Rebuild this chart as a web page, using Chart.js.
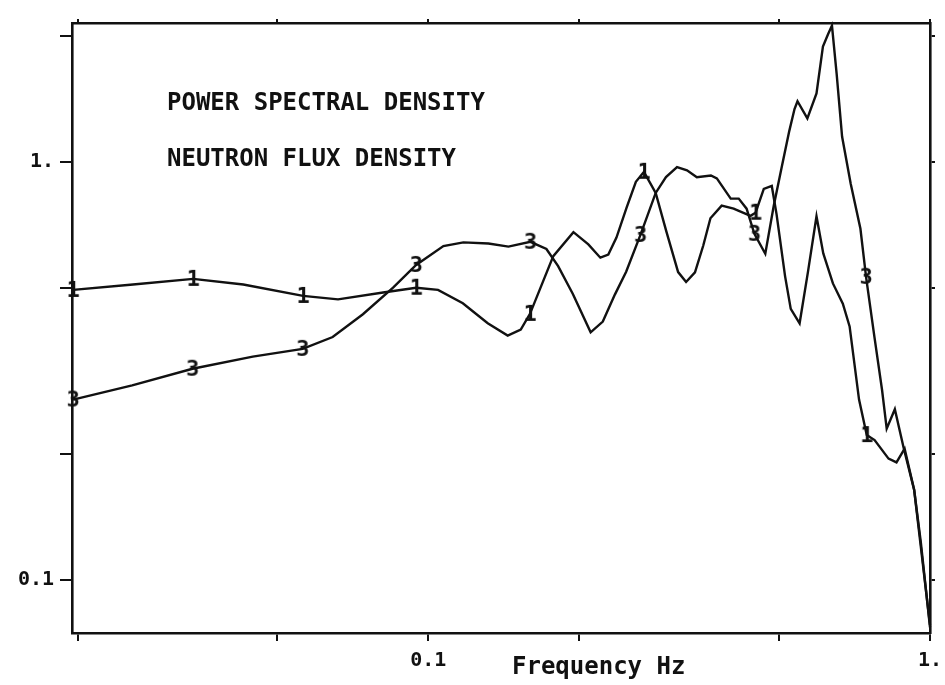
<!DOCTYPE html>
<html>
<head>
<meta charset="utf-8">
<script src="https://cdn.jsdelivr.net/npm/chart.js@4/dist/chart.umd.min.js"></script>
<style>
  html, body { margin: 0; padding: 0; background: #fff; }
  #psd { display: block; }
</style>
</head>
<body>
<canvas id="psd" width="945" height="685"></canvas>
<script>
// Power spectral density of neutron flux, curves "1" and "3" (log-log)
const titleLines = ['POWER SPECTRAL DENSITY', 'NEUTRON FLUX DENSITY'];
const xTitle = 'Frequency Hz';

const xTicks = [0.02, 0.05, 0.1, 0.2, 0.5, 1];
const yTicks = [0.1, 0.2, 0.5, 1, 2];
const xLabels = { 0.1: '0.1', 1: '1.' };
const yLabels = { 0.1: '0.1', 1: '1.' };

const freq1 = [0.0196, 0.0258, 0.0340, 0.0428, 0.0563, 0.0661, 0.0813, 0.0946, 0.1046, 0.1172,
               0.1314, 0.1440, 0.1529, 0.1595, 0.1775, 0.1947, 0.2085, 0.2203, 0.2285, 0.2372,
               0.2485, 0.2593, 0.2691, 0.2840, 0.2984, 0.3148, 0.3265, 0.3401, 0.3533, 0.3651,
               0.3844, 0.4061, 0.4388, 0.4491, 0.4664, 0.4838, 0.4945, 0.5142, 0.5278, 0.5497,
               0.5714, 0.5940, 0.6128, 0.6405, 0.6703, 0.6915, 0.7221, 0.7480, 0.7755, 0.8268,
               0.8575, 0.8900, 0.9300, 0.9587, 1.0000];
const psd1  = [0.494, 0.509, 0.525, 0.509, 0.478, 0.469, 0.487, 0.500, 0.494, 0.459,
               0.411, 0.384, 0.397, 0.433, 0.595, 0.679, 0.635, 0.590, 0.600, 0.659,
               0.777, 0.896, 0.947, 0.843, 0.680, 0.545, 0.516, 0.544, 0.631, 0.733,
               0.786, 0.773, 0.743, 0.756, 0.862, 0.876, 0.750, 0.533, 0.445, 0.411,
               0.547, 0.741, 0.604, 0.512, 0.458, 0.404, 0.270, 0.222, 0.216, 0.195,
               0.191, 0.206, 0.164, 0.123, 0.077];
const marks1 = [0, 2, 4, 7, 13, 22, 33, 47];

const freq3 = [0.0196, 0.0257, 0.0339, 0.0447, 0.0562, 0.0645, 0.0741, 0.0851, 0.0946, 0.1072,
               0.1175, 0.1318, 0.1445, 0.1598, 0.1720, 0.1815, 0.1942, 0.2107, 0.2228, 0.2356,
               0.2480, 0.2648, 0.2840, 0.2977, 0.3132, 0.3279, 0.3430, 0.3659, 0.3760, 0.4007,
               0.4157, 0.4310, 0.4467, 0.4696, 0.4881, 0.5069, 0.5242, 0.5370, 0.5444, 0.5696,
               0.5940, 0.6118, 0.6260, 0.6377, 0.6515, 0.6680, 0.6950, 0.7267, 0.7457, 0.7750,
               0.8024, 0.8198, 0.8510, 0.8860, 0.9300, 0.9587, 1.0000];
const psd3  = [0.270, 0.292, 0.320, 0.342, 0.357, 0.381, 0.432, 0.500, 0.567, 0.629,
               0.642, 0.638, 0.627, 0.644, 0.619, 0.563, 0.483, 0.391, 0.415, 0.482,
               0.546, 0.669, 0.843, 0.920, 0.972, 0.955, 0.919, 0.928, 0.913, 0.817,
               0.817, 0.773, 0.673, 0.603, 0.784, 0.978, 1.185, 1.338, 1.397, 1.271,
               1.459, 1.889, 2.018, 2.120, 1.627, 1.150, 0.887, 0.692, 0.531, 0.381,
               0.285, 0.230, 0.256, 0.207, 0.164, 0.120, 0.078];
const marks3 = [0, 2, 4, 8, 13, 21, 32, 48];

const INK = '#111';
const MONO = '"DejaVu Sans Mono", "Liberation Mono", monospace';

function digitImage(ch) {
    const c = document.createElement('canvas');
    c.width = 18; c.height = 24;
    const g = c.getContext('2d');
    g.fillStyle = INK;
    g.font = 'bold 22px ' + MONO;
    g.textAlign = 'center';
    g.textBaseline = 'middle';
    g.fillText(ch, 9, 13);
    return c;
}

function makeSeries(name, freq, psd, marks) {
    const img = digitImage(name);
    return {
        label: name,
        data: freq.map((f, i) => ({ x: f, y: psd[i] })),
        borderColor: INK,
        borderWidth: 2.4,
        tension: 0,
        fill: false,
        clip: false,
        pointStyle: img,
        pointRadius: ctx => marks.includes(ctx.dataIndex) ? 8 : 0,
        pointHoverRadius: 0,
    };
}

const fixTicks = list => scale => { scale.ticks = list.map(v => ({ value: v })); };

const fitBox = (w, h) => s => {
    if (w !== null) s.width = w;
    if (h !== null) s.height = h;
    s.paddingLeft = 0;
    s.paddingRight = 0;
    s.paddingTop = 0;
    s.paddingBottom = 0;
};

const textLayer = {
    id: 'textLayer',
    afterDraw(chart) {
        const { ctx, chartArea: a } = chart;
        ctx.save();
        ctx.fillStyle = INK;
        ctx.textBaseline = 'alphabetic';
        ctx.textAlign = 'left';
        ctx.font = 'bold 24px ' + MONO;
        ctx.fillText(titleLines[0], a.left + 95, a.top + 87);
        ctx.fillText(titleLines[1], a.left + 95, a.top + 143);
        ctx.fillText(xTitle, a.left + 440, a.bottom + 41);
        ctx.restore();
    }
};

const axisLine = { color: INK, width: 2.6 };

new Chart(document.getElementById('psd'), {
    type: 'line',
    data: {
        datasets: [
            makeSeries('1', freq1, psd1, marks1),
            makeSeries('3', freq3, psd3, marks3),
        ]
    },
    plugins: [textLayer],
    options: {
        responsive: false,
        animation: false,
        events: [],
        layout: { padding: { left: 0, right: 15, top: 23, bottom: 0 } },
        plugins: { legend: { display: false }, tooltip: { enabled: false } },
        scales: {
            x: {
                type: 'logarithmic',
                position: 'bottom',
                min: 0.0195,
                max: 1,
                afterBuildTicks: fixTicks(xTicks),
                afterFit: fitBox(null, 52),
                border: axisLine,
                grid: { drawOnChartArea: false, color: INK, lineWidth: 2, tickLength: 8 },
                ticks: {
                    color: INK,
                    padding: 8,
                    maxRotation: 0,
                    autoSkip: false,
                    font: { family: MONO, size: 20, weight: 'bold' },
                    callback: v => xLabels[v] || ''
                }
            },
            x2: {
                type: 'logarithmic',
                position: 'top',
                min: 0.0195,
                max: 1,
                afterBuildTicks: fixTicks(xTicks),
                afterFit: fitBox(null, 0),
                border: axisLine,
                grid: { drawOnChartArea: false, color: INK, lineWidth: 2, tickLength: 4 },
                ticks: { display: false }
            },
            y: {
                type: 'logarithmic',
                position: 'left',
                min: 0.0746,
                max: 2.15,
                afterBuildTicks: fixTicks(yTicks),
                afterFit: fitBox(72, null),
                border: axisLine,
                grid: { drawOnChartArea: false, color: INK, lineWidth: 2, tickLength: 12 },
                ticks: {
                    color: INK,
                    padding: 6,
                    autoSkip: false,
                    font: { family: MONO, size: 20, weight: 'bold' },
                    callback: v => yLabels[v] || ''
                }
            },
            y2: {
                type: 'logarithmic',
                position: 'right',
                min: 0.0746,
                max: 2.15,
                afterBuildTicks: fixTicks(yTicks),
                afterFit: fitBox(0, null),
                border: axisLine,
                grid: { drawOnChartArea: false, color: INK, lineWidth: 2, tickLength: 5 },
                ticks: { display: false }
            }
        }
    }
});
</script>
</body>
</html>
